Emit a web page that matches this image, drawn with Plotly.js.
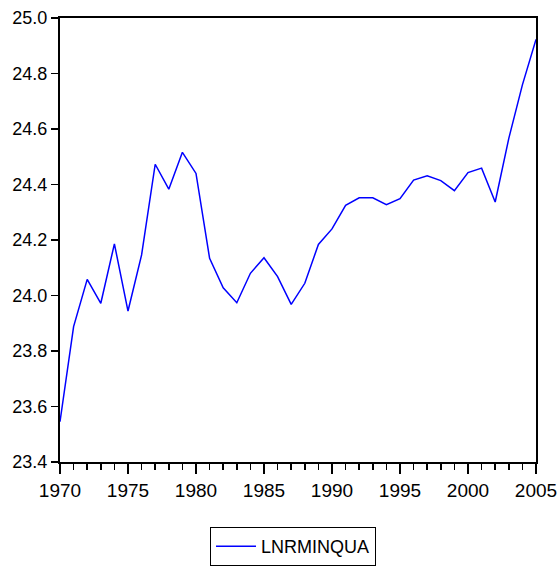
<!DOCTYPE html>
<html>
<head>
<meta charset="utf-8">
<script src="https://cdn.plot.ly/plotly-3.0.1.min.js"></script>
<style>html,body{margin:0;padding:0;background:#fff;}#chart{width:559px;height:568px;}</style>
</head>
<body>
<div id="chart"></div>
<script>
var years = [1970,1971,1972,1973,1974,1975,1976,1977,1978,1979,1980,1981,1982,1983,1984,1985,1986,1987,1988,1989,1990,1991,1992,1993,1994,1995,1996,1997,1998,1999,2000,2001,2002,2003,2004,2005];
var lnrminqua = [23.545,23.888,24.058,23.972,24.186,23.944,24.146,24.473,24.383,24.516,24.440,24.134,24.028,23.974,24.080,24.136,24.068,23.968,24.044,24.184,24.240,24.325,24.352,24.352,24.327,24.349,24.416,24.431,24.414,24.378,24.443,24.459,24.337,24.566,24.759,24.923];
var seriesName = "LNRMINQUA";

var trace = {
  x: years, y: lnrminqua, type: 'scatter', mode: 'lines', name: seriesName,
  line: {color: '#0000ff', width: 1.5}
};
var fam = 'Liberation Sans, Arial, sans-serif';
var legendFont = {family: fam, size: 18, color: '#000'};
var xFont = {family: fam, size: 19, color: '#000'};
var yFont = {family: fam, size: 18, color: '#000'};
var layout = {
  width: 559, height: 568,
  margin: {l: 60, r: 23, t: 18, b: 106, pad: 0, autoexpand: false},
  paper_bgcolor: '#fff', plot_bgcolor: '#fff',
  font: legendFont,
  showlegend: true,
  legend: {
    xref: 'container', yref: 'container',
    x: 210/559, y: 1 - 527/568, xanchor: 'left', yanchor: 'top',
    bordercolor: '#000', borderwidth: 1, bgcolor: '#fff',
    itemwidth: 40,
    font: legendFont
  },
  xaxis: {
    range: [1970, 2005], dtick: 5, tick0: 1970, tickangle: 0,
    showgrid: false, zeroline: false, automargin: false,
    showline: true, mirror: true, linecolor: '#000', linewidth: 2,
    ticks: 'outside', ticklen: 10, tickwidth: 1.5, tickcolor: '#000',
    minor: {dtick: 1, ticks: 'outside', ticklen: 6, tickwidth: 1.5, tickcolor: '#000', showgrid: false},
    tickfont: xFont
  },
  yaxis: {
    range: [23.4, 25.0], dtick: 0.2, tick0: 23.4, tickformat: '.1f',
    showgrid: false, zeroline: false, automargin: false,
    showline: true, mirror: true, linecolor: '#000', linewidth: 2,
    ticks: 'outside', ticklen: 7, tickwidth: 1.5, tickcolor: '#000',
    tickfont: yFont
  }
};
Plotly.newPlot('chart', [trace], layout, {staticPlot: true, displayModeBar: false});
</script>
</body>
</html>
